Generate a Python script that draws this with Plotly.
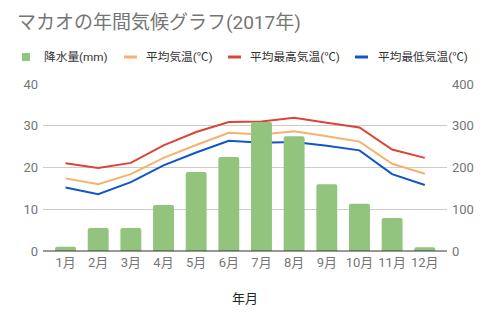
import plotly.graph_objects as go

# Macau monthly climate, 2017
months = ["1月", "2月", "3月", "4月", "5月", "6月", "7月", "8月", "9月", "10月", "11月", "12月"]
precip_mm = [10, 55, 55, 110, 189, 225, 309, 275, 160, 113, 79, 9]
temp_avg = [17.4, 16.0, 18.4, 22.3, 25.4, 28.3, 27.9, 28.7, 27.5, 26.2, 20.9, 18.5]
temp_max = [21.0, 19.9, 21.1, 25.3, 28.5, 30.9, 31.0, 31.9, 30.7, 29.6, 24.3, 22.3]
temp_min = [15.2, 13.6, 16.5, 20.5, 23.6, 26.4, 25.9, 26.1, 25.2, 24.1, 18.4, 15.8]

W, H = 490, 322
L, R, T, B = 43, 43, 84, 71
plot_w = W - L - R
plot_h = H - T - B

GREEN = "#93c47d"
ORANGE = "#f6b26b"
RED = "#db4437"
BLUE = "#1155cc"
GRAY = "#757575"
FONT = "Roboto, 'Noto Sans CJK JP', sans-serif"

fig = go.Figure()
fig.add_trace(go.Bar(x=months, y=precip_mm, name="降水量(mm)", marker_color=GREEN,
                     marker_line_width=0, yaxis="y2", width=0.64))
fig.add_trace(go.Scatter(x=months, y=temp_avg, name="平均気温(℃)", mode="lines",
                         line=dict(color=ORANGE, width=2)))
fig.add_trace(go.Scatter(x=months, y=temp_max, name="平均最高気温(℃)", mode="lines",
                         line=dict(color=RED, width=2)))
fig.add_trace(go.Scatter(x=months, y=temp_min, name="平均最低気温(℃)", mode="lines",
                         line=dict(color=BLUE, width=2)))

def px_x(p):
    return (p - L) / plot_w

def px_y(p):
    return (H - B - p) / plot_h

# Legend drawn as shapes + text along the top
shapes = []
annotations = []
leg_y = 57
legend_items = [
    ("box", GREEN, 22, 42, "降水量(mm)"),
    ("line", ORANGE, 124, 144, "平均気温(℃)"),
    ("line", RED, 228, 248, "平均最高気温(℃)"),
    ("line", BLUE, 355, 376, "平均最低気温(℃)"),
]
for kind, color, sx, tx, label in legend_items:
    if kind == "box":
        shapes.append(dict(type="rect", xref="paper", yref="paper",
                           x0=px_x(sx), x1=px_x(sx + 8), y0=px_y(leg_y + 4), y1=px_y(leg_y - 4),
                           fillcolor=color, line_width=0, layer="above"))
    else:
        shapes.append(dict(type="line", xref="paper", yref="paper",
                           x0=px_x(sx), x1=px_x(sx + 13), y0=px_y(leg_y), y1=px_y(leg_y),
                           line=dict(color=color, width=3), layer="above"))
    annotations.append(dict(text=label, xref="paper", yref="paper", x=px_x(tx), y=px_y(leg_y),
                            xanchor="left", yanchor="middle", showarrow=False,
                            font=dict(size=11.7, color="#333333", family=FONT)))

# baseline along the x axis
shapes.append(dict(type="line", xref="paper", yref="paper", x0=0, x1=1, y0=0, y1=0,
                   line=dict(color="#333333", width=1), layer="above"))

fig.update_layout(
    width=W, height=H,
    margin=dict(l=L, r=R, t=T, b=B),
    paper_bgcolor="white", plot_bgcolor="white",
    showlegend=False,
    barcornerradius=2,
    font=dict(family=FONT, color=GRAY, size=13),
    title=dict(text="マカオの年間気候グラフ(2017年)", xref="container", yref="container",
               x=17 / W, y=1 - 22 / H, xanchor="left", yanchor="middle",
               font=dict(size=19, color=GRAY, family=FONT)),
    xaxis=dict(range=[-0.69, 11.68], showgrid=False, showline=False, zeroline=False,
               ticks="", ticklabelstandoff=2, tickfont=dict(size=13, color=GRAY),
               title=dict(text="年月", font=dict(size=13, color="#222222"), standoff=24)),
    yaxis=dict(range=[0, 40], dtick=10, showgrid=True, gridcolor="#cccccc", gridwidth=1,
               zeroline=False, showline=False, ticks="", ticklabelstandoff=4,
               tickfont=dict(size=13, color=GRAY)),
    yaxis2=dict(range=[0, 400], dtick=100, overlaying="y", side="right", showgrid=False,
                zeroline=False, showline=False, ticks="", ticklabelstandoff=4,
                tickfont=dict(size=13, color=GRAY)),
    shapes=shapes,
    annotations=annotations,
)

fig.write_html("out.html")
